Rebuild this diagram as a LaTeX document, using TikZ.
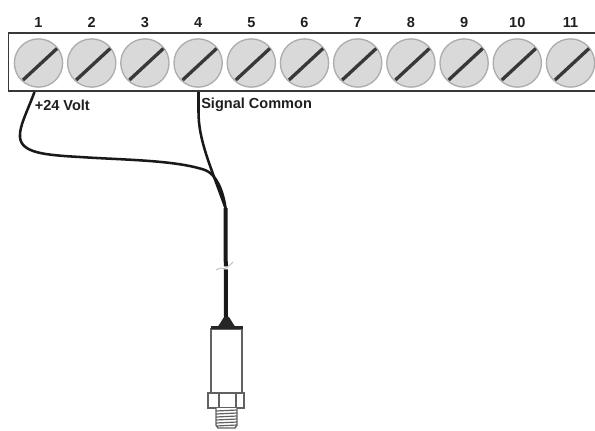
\documentclass[tikz,border=0pt]{standalone}
\usepackage{fontspec}
\setmainfont{Liberation Sans}
\begin{document}
\begin{tikzpicture}[x=0.75pt,y=-0.75pt,
  screw/.style={circle,draw=black!32,fill=black!15,line width=1pt,minimum size=36.2pt,inner sep=0pt},
  slot/.style={draw=black!78,line width=2.5pt},
  termlabel/.style={font=\fontsize{10.9}{12}\selectfont\bfseries,text=black!88,inner sep=0pt},
  wirelabel/.style={font=\fontsize{10.9}{12}\selectfont\bfseries,text=black!88,inner sep=0pt,anchor=west},
  wire/.style={draw=black!90,line width=1.9pt},
  sensor/.style={draw=black!62,line width=1.1pt,fill=white}]
\useasboundingbox (0,0) rectangle (595,430);
% terminal strip
\path[draw=black!78,line width=1.3pt] (595,33) -- (8.5,33) -- (8.5,91) -- (595,91);
\foreach \i [evaluate=\i as \xx using {38.5+(\i-1)*53.2}] in {1,...,11}{
  \node[screw] (s\i) at (\xx,63) {};
  \draw[slot] ([shift={(-15.5,17)}]s\i.center) -- ([shift={(18.5,-14.5)}]s\i.center);
  \node[termlabel] (t\i) at (\xx,22.5) {\i};
}
\node[wirelabel] (l1) at (34.5,105) {+24 Volt};
\node[wirelabel] (l2) at (201,105) {Signal Common};
% wires
\coordinate (w1) at (34.5,92);
\coordinate (w2) at (198.5,92);
\coordinate (j) at (225.5,208);
\coordinate (c) at (226,317);
\draw[wire] (w1) .. controls (27,112) and (19,127) .. (20,137)
  .. controls (21,153) and (45,155) .. (80,157)
  .. controls (125,160) and (175,160) .. (205,170)
  .. controls (216,174) and (223,190) .. (j);
\draw[wire] (w2) -- (198.5,112) .. controls (198.5,140) and (210,165) .. (j);
\draw[draw=black!90,line width=3pt] (j) -- (c);
% break mark
\coordinate (b1) at (216,270);
\coordinate (b2) at (233,262);
\draw[white,line width=2.2pt] (218,270) .. controls (223,264) and (228,272) .. (233,265);
\draw[black!28,line width=0.6pt] (b1) .. controls (221,266) and (224,270) .. (226,268) .. controls (228,266) and (231,265) .. (b2);
% sensor
\fill[black!85] (c) -- (229,317) -- (234,325) -- (236,327) -- (217,327) -- (219,325) -- (224,317) -- cycle;
\draw[sensor] (211,329) rectangle (242,393);
\draw[black!85,line width=1.8pt] (210.5,327.5) -- (242.5,327.5);
\draw[sensor] (208,393) rectangle (244,408);
\draw[black!62,line width=0.8pt] (219,393) -- (219,408) (236,393) -- (236,408);
\draw[sensor] (216,408) -- (216,425) -- (218,428) -- (235,428) -- (237,425) -- (237,408);
\foreach \y in {411,414,...,426}{
  \draw[black!62,line width=0.9pt] (216,\y) -- (237,\y-1);
}
\end{tikzpicture}
\end{document}
